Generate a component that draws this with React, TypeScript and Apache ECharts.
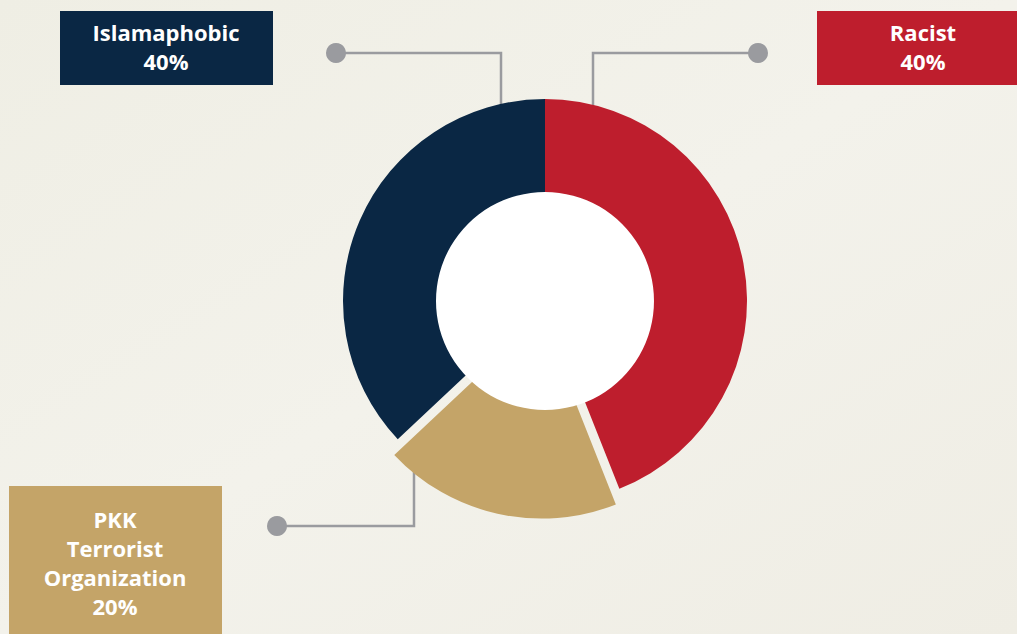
import React, { useEffect, useRef } from "react";
import * as echarts from "echarts";

// Data
const categories = ["Racist", "PKK Terrorist Organization", "Islamaphobic"];
const labelLines = ["Racist", "PKK\nTerrorist\nOrganization", "Islamaphobic"];
const labelPercents = ["40%", "20%", "40%"];
// arc shares as drawn in the reference (degrees of the ring / 3.6)
const sliceShares = [44, 19, 37];
const sliceColors = ["#be1e2d", "#c4a468", "#0a2744"];

const CX = 545;
const CY = 301;
const R_OUT = 202;
const R_IN = 109;

export default function App() {
  const ref = useRef<HTMLDivElement>(null);
  useEffect(() => {
    if (!ref.current) return;
    const chart = echarts.init(ref.current, undefined, { renderer: "svg" });
    const lineColor = "#9a9b9f";
    const font = "bold 22px 'Open Sans'";

    const annotations = [
      {
        idx: 0,
        pts: [[593, 106], [593, 53], [758, 53]],
        dot: [758, 53],
        box: [817, 11, 215, 74],
        textX: 923,
        textY: 46.5,
      },
      {
        idx: 1,
        pts: [[414, 468], [414, 526], [277, 526]],
        dot: [277, 526],
        box: [9, 486, 213, 160],
        textX: 115,
        textY: 562.5,
      },
      {
        idx: 2,
        pts: [[501, 106], [501, 53], [336, 53]],
        dot: [336, 53],
        box: [60, 11, 213, 74],
        textX: 166,
        textY: 46.5,
      },
    ];

    const graphics: any[] = [];
    annotations.forEach((a) => {
      graphics.push({
        type: "polyline",
        z: 1,
        shape: { points: a.pts },
        style: { stroke: lineColor, lineWidth: 2.5, fill: "none" },
        silent: true,
      });
      graphics.push({
        type: "circle",
        z: 100,
        shape: { cx: a.dot[0], cy: a.dot[1], r: 10 },
        style: { fill: lineColor },
        silent: true,
      });
      graphics.push({
        type: "rect",
        z: 100,
        shape: { x: a.box[0], y: a.box[1], width: a.box[2], height: a.box[3] },
        style: { fill: sliceColors[a.idx] },
        silent: true,
      });
      graphics.push({
        type: "text",
        z: 101,
        x: a.textX,
        y: a.textY,
        style: {
          text: labelLines[a.idx] + "\n" + labelPercents[a.idx],
          font,
          lineHeight: 29,
          fill: "#ffffff",
          align: "center",
          verticalAlign: "middle",
        },
        silent: true,
      });
    });

    chart.setOption({
      animation: false,
      backgroundColor: {
        type: "linear",
        x: 0,
        y: 0,
        x2: 1,
        y2: 1,
        colorStops: [
          { offset: 0, color: "#efeee4" },
          { offset: 0.5, color: "#f3f2eb" },
          { offset: 1, color: "#efede4" },
        ],
      },
      graphic: graphics,
      series: [
        {
          type: "pie",
          center: [CX, CY],
          radius: [80, R_OUT],
          startAngle: 90,
          clockwise: true,
          silent: true,
          selectedMode: "single",
          selectedOffset: 16,
          label: { show: false },
          labelLine: { show: false },
          emphasis: { disabled: true },
          data: categories.map((name, i) => ({
            name,
            value: sliceShares[i],
            selected: i === 1,
            itemStyle: { color: sliceColors[i] },
          })),
          z: 2,
        },
        {
          type: "pie",
          center: [CX, CY],
          radius: [0, R_IN],
          silent: true,
          label: { show: false },
          labelLine: { show: false },
          emphasis: { disabled: true },
          data: [{ name: "hole", value: 1, itemStyle: { color: "#ffffff" } }],
          z: 3,
        },
      ],
    });
    return () => chart.dispose();
  }, []);
  return (
    <div
      ref={ref}
      style={{ position: "fixed", left: 0, top: 0, width: 1017, height: 634 }}
    />
  );
}
